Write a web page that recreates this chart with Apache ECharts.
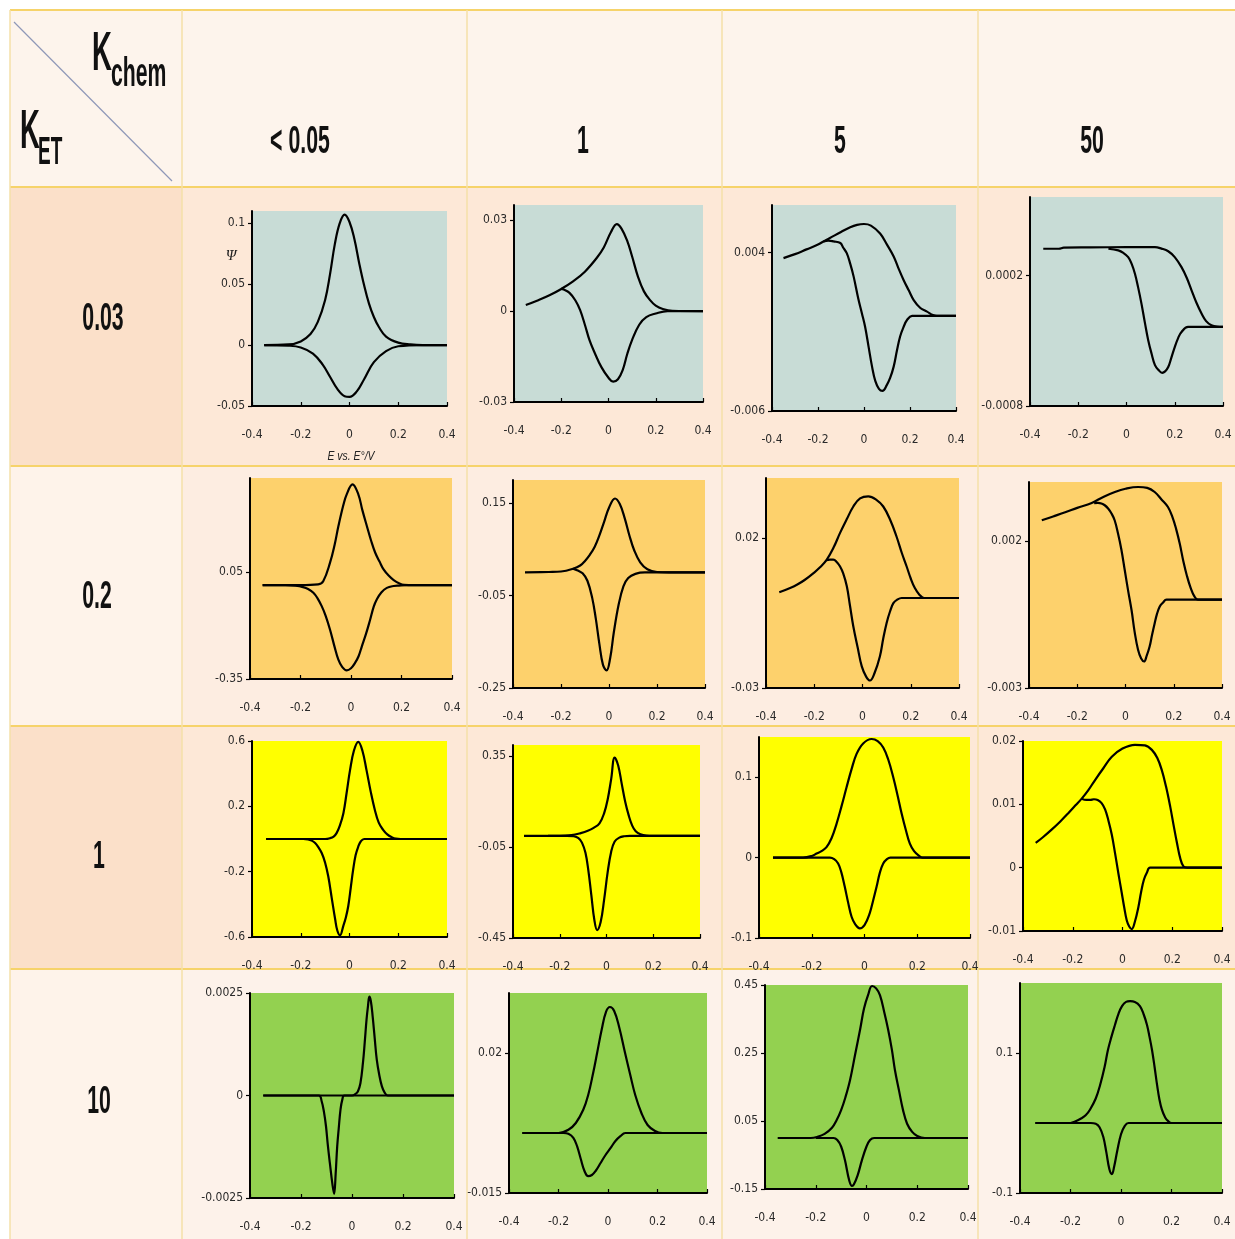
<!DOCTYPE html>
<html>
<head>
<meta charset="utf-8">
<script src="https://cdn.jsdelivr.net/npm/echarts@6/dist/echarts.min.js"></script>
<style>
  html, body { margin: 0; padding: 0; background: #ffffff; }
  #chart { width: 1235px; height: 1239px; }
</style>
</head>
<body>
<div id="chart"></div>
<script>
// ---- Table headers -------------------------------------------------------
const kChemLabels = ['< 0.05', '1', '5', '50'];   // columns: K_chem
const kEtLabels = ['0.03', '0.2', '1', '10'];     // rows: K_ET

// ---- Axis values (panels listed row by row, left to right) ---------------
const potentialTicks = [-0.4, -0.2, 0, 0.2, 0.4];
const potentialMin = -0.4;
const potentialMax = 0.4;

const psiMin = [-0.05, -0.03, -0.006, -0.0008,
                -0.35, -0.25, -0.03, -0.003,
                -0.6, -0.45, -0.1, -0.01,
                -0.0025, -0.015, -0.15, -0.1];
const psiMax = [0.11, 0.035, 0.007, 0.0008,
                0.4, 0.2, 0.04, 0.004,
                0.6, 0.4, 0.15, 0.02,
                0.0025, 0.035, 0.45, 0.2];
const psiTicks = [
  [-0.05, 0, 0.05, 0.1], [-0.03, 0, 0.03], [-0.006, 0.004], [-0.0008, 0.0002],
  [-0.35, 0.05], [-0.25, -0.05, 0.15], [-0.03, 0.02], [-0.003, 0.002],
  [-0.6, -0.2, 0.2, 0.6], [-0.45, -0.05, 0.35], [-0.1, 0, 0.1], [-0.01, 0, 0.01, 0.02],
  [-0.0025, 0, 0.0025], [-0.015, 0.02], [-0.15, 0.05, 0.25, 0.45], [-0.1, 0.1]
];

// ---- Voltammograms: [E / V, psi] in scan order ---------------------------
// K_ET = 0.03
const cv_et003_chem005_fwd = [[-0.35,0],[-0.25,0.0005],[-0.2,0.003],[-0.16,0.009],[-0.13,0.019],[-0.1,0.037],[-0.08,0.058],[-0.06,0.083],[-0.04,0.1],[-0.02,0.107],[0,0.101],[0.02,0.087],[0.04,0.067],[0.06,0.049],[0.08,0.034],[0.1,0.023],[0.12,0.015],[0.15,0.007],[0.2,0.002],[0.25,0.0005],[0.3,0],[0.4,0]];
const cv_et003_chem005_rev = [[0.4,0],[0.3,0],[0.2,-0.001],[0.15,-0.005],[0.1,-0.014],[0.06,-0.028],[0.03,-0.038],[0,-0.0425],[-0.02,-0.042],[-0.05,-0.036],[-0.08,-0.026],[-0.11,-0.016],[-0.15,-0.007],[-0.2,-0.002],[-0.25,-0.0005],[-0.35,0]];

const cv_et003_chem1_fwd = [[-0.35,0.002],[-0.3,0.0035],[-0.25,0.0052],[-0.2,0.0073],[-0.15,0.0098],[-0.1,0.013],[-0.05,0.0175],[-0.02,0.021],[0.01,0.026],[0.035,0.0287],[0.055,0.0272],[0.08,0.023],[0.1,0.018],[0.125,0.0113],[0.15,0.0065],[0.175,0.0037],[0.2,0.0018],[0.23,0.0007],[0.27,0.0001],[0.4,0]];
const cv_et003_chem1_rev = [[0.4,0],[0.25,0],[0.2,-0.0008],[0.16,-0.002],[0.13,-0.0045],[0.1,-0.0095],[0.08,-0.014],[0.06,-0.0195],[0.04,-0.0225],[0.02,-0.0233],[0,-0.022],[-0.03,-0.0185],[-0.06,-0.0135],[-0.08,-0.0097],[-0.1,-0.0045],[-0.12,0.0003],[-0.14,0.0035],[-0.165,0.006],[-0.19,0.0071],[-0.2,0.0073]];

const cv_et003_chem5_fwd = [[-0.35,0.00365],[-0.3,0.0039],[-0.25,0.0042],[-0.2,0.0045],[-0.176,0.0047],[-0.15,0.0049],[-0.1,0.0053],[-0.06,0.0056],[-0.03,0.00575],[0,0.0058],[0.03,0.0057],[0.07,0.0052],[0.1,0.0045],[0.129,0.00375],[0.15,0.003],[0.172,0.00227],[0.195,0.0016],[0.216,0.001],[0.245,0.0005],[0.274,0.00027],[0.3,0.00005],[0.317,0],[0.4,0]];
const cv_et003_chem5_rev = [[0.4,0],[0.209,0],[0.187,-0.00026],[0.172,-0.0007],[0.157,-0.0013],[0.143,-0.0022],[0.129,-0.0032],[0.114,-0.0039],[0.099,-0.00437],[0.08,-0.00473],[0.065,-0.0046],[0.049,-0.0041],[0.035,-0.0032],[0.02,-0.00195],[0.005,-0.0007],[-0.009,0.00016],[-0.025,0.0011],[-0.045,0.00248],[-0.06,0.0033],[-0.075,0.00396],[-0.09,0.0043],[-0.103,0.0046],[-0.132,0.0047],[-0.155,0.00475],[-0.176,0.0047]];

const cv_et003_chem50_fwd = [[-0.345,0.000404],[-0.28,0.000404],[-0.26,0.000412],[-0.15,0.000414],[0,0.000416],[0.118,0.000416],[0.145,0.000405],[0.173,0.000385],[0.2,0.00034],[0.228,0.000263],[0.25,0.00018],[0.27,0.000084],[0.29,-0.00001],[0.311,-0.000092],[0.33,-0.00015],[0.352,-0.000182],[0.375,-0.000193],[0.4,-0.000195]];
const cv_et003_chem50_rev = [[0.4,-0.000195],[0.255,-0.000195],[0.228,-0.000233],[0.214,-0.00028],[0.2,-0.000349],[0.186,-0.00043],[0.173,-0.000502],[0.16,-0.000535],[0.148,-0.000546],[0.133,-0.000525],[0.118,-0.000487],[0.104,-0.0004],[0.09,-0.000296],[0.076,-0.00016],[0.062,-0.000016],[0.048,0.00011],[0.035,0.000213],[0.021,0.00029],[0.007,0.00034],[-0.013,0.000372],[-0.034,0.000391],[-0.075,0.000404]];

// K_ET = 0.2
const cv_et02_chem005_fwd = [[-0.35,0],[-0.2,0],[-0.13,0.003],[-0.11,0.015],[-0.083,0.084],[-0.065,0.15],[-0.05,0.22],[-0.03,0.3],[-0.017,0.339],[0.006,0.376],[0.029,0.339],[0.045,0.28],[0.063,0.22],[0.08,0.165],[0.096,0.121],[0.113,0.088],[0.129,0.059],[0.15,0.035],[0.169,0.019],[0.19,0.007],[0.21,0.001],[0.25,0],[0.4,0]];
const cv_et02_chem005_rev = [[0.4,0],[0.22,0],[0.19,-0.0015],[0.169,-0.003],[0.142,-0.01],[0.12,-0.027],[0.102,-0.053],[0.09,-0.08],[0.076,-0.128],[0.06,-0.18],[0.043,-0.228],[0.03,-0.265],[0.016,-0.29],[0,-0.31],[-0.017,-0.318],[-0.035,-0.305],[-0.05,-0.278],[-0.065,-0.23],[-0.083,-0.166],[-0.1,-0.115],[-0.116,-0.078],[-0.133,-0.048],[-0.149,-0.028],[-0.17,-0.014],[-0.19,-0.007],[-0.22,-0.002],[-0.26,0],[-0.35,0]];

const cv_et02_chem1_fwd = [[-0.35,0],[-0.25,0.001],[-0.2,0.002],[-0.15,0.008],[-0.12,0.015],[-0.1,0.025],[-0.08,0.038],[-0.06,0.055],[-0.04,0.08],[-0.02,0.11],[0,0.14],[0.025,0.16],[0.045,0.148],[0.065,0.118],[0.085,0.08],[0.105,0.048],[0.13,0.022],[0.16,0.007],[0.2,0.001],[0.25,0],[0.4,0]];
const cv_et02_chem1_rev = [[0.4,0],[0.15,0],[0.11,-0.003],[0.08,-0.012],[0.06,-0.03],[0.04,-0.07],[0.02,-0.13],[0.005,-0.185],[-0.01,-0.212],[-0.025,-0.2],[-0.04,-0.155],[-0.055,-0.1],[-0.07,-0.055],[-0.09,-0.018],[-0.11,-0.002],[-0.13,0.004],[-0.15,0.008]];

const cv_et02_chem5_fwd = [[-0.345,0.0019],[-0.3,0.0033],[-0.272,0.0044],[-0.24,0.006],[-0.203,0.0083],[-0.175,0.0103],[-0.148,0.0128],[-0.12,0.0168],[-0.093,0.0217],[-0.065,0.0263],[-0.038,0.0305],[-0.01,0.0332],[0.024,0.0339],[0.055,0.0329],[0.086,0.0305],[0.115,0.026],[0.141,0.0205],[0.163,0.015],[0.183,0.0105],[0.2,0.0065],[0.217,0.0033],[0.235,0.0012],[0.255,0],[0.4,0]];
const cv_et02_chem5_rev = [[0.4,0],[0.162,0],[0.145,-0.0005],[0.128,-0.0017],[0.114,-0.0045],[0.1,-0.0083],[0.086,-0.0135],[0.072,-0.0195],[0.05,-0.025],[0.031,-0.0275],[0.015,-0.0262],[-0.003,-0.0228],[-0.02,-0.0165],[-0.038,-0.0095],[-0.052,-0.0025],[-0.065,0.0039],[-0.08,0.0082],[-0.093,0.0105],[-0.107,0.012],[-0.121,0.0128],[-0.135,0.0128],[-0.15,0.0126]];

const cv_et02_chem50_fwd = [[-0.347,0.0027],[-0.3,0.00283],[-0.25,0.00297],[-0.2,0.00312],[-0.14,0.00329],[-0.09,0.0035],[-0.044,0.00366],[0,0.00377],[0.052,0.00383],[0.09,0.0038],[0.121,0.00366],[0.15,0.0034],[0.176,0.00315],[0.195,0.0028],[0.21,0.0024],[0.225,0.0019],[0.24,0.0013],[0.255,0.0008],[0.27,0.0004],[0.285,0.00012],[0.3,0],[0.4,0]];
const cv_et02_chem50_rev = [[0.4,0],[0.17,0],[0.155,-0.0001],[0.142,-0.00023],[0.13,-0.0005],[0.121,-0.0008],[0.11,-0.0012],[0.1,-0.00159],[0.088,-0.0019],[0.077,-0.0021],[0.065,-0.002],[0.052,-0.0017],[0.038,-0.0011],[0.025,-0.00035],[0.011,0.0003],[-0.003,0.001],[-0.017,0.0017],[-0.031,0.00225],[-0.045,0.0027],[-0.058,0.00293],[-0.072,0.0031],[-0.086,0.00321],[-0.1,0.00327],[-0.114,0.00329],[-0.13,0.00328]];

// K_ET = 1
const cv_et1_chem005_fwd = [[-0.342,0],[-0.1,0],[-0.08,0.005],[-0.065,0.015],[-0.053,0.036],[-0.04,0.08],[-0.025,0.158],[-0.012,0.28],[0.002,0.42],[0.018,0.54],[0.036,0.595],[0.053,0.54],[0.07,0.42],[0.087,0.29],[0.104,0.178],[0.12,0.1],[0.138,0.056],[0.155,0.028],[0.172,0.012],[0.19,0.002],[0.21,0],[0.4,0]];
const cv_et1_chem005_rev = [[0.4,0],[0.06,0],[0.046,-0.015],[0.036,-0.046],[0.025,-0.1],[0.015,-0.188],[0.005,-0.3],[-0.005,-0.41],[-0.015,-0.48],[-0.025,-0.53],[-0.039,-0.59],[-0.05,-0.56],[-0.059,-0.49],[-0.073,-0.36],[-0.087,-0.23],[-0.1,-0.145],[-0.114,-0.086],[-0.128,-0.05],[-0.141,-0.025],[-0.155,-0.01],[-0.17,-0.002],[-0.19,0],[-0.342,0]];

const cv_et1_chem1_fwd = [[-0.353,0],[-0.2,0],[-0.15,0.003],[-0.11,0.012],[-0.08,0.022],[-0.055,0.035],[-0.03,0.055],[-0.01,0.1],[0.005,0.16],[0.02,0.25],[0.035,0.345],[0.05,0.31],[0.065,0.23],[0.08,0.15],[0.095,0.09],[0.11,0.045],[0.125,0.02],[0.145,0.007],[0.17,0.001],[0.2,0],[0.4,0]];
const cv_et1_chem1_rev = [[0.4,0],[0.1,0],[0.075,-0.002],[0.055,-0.008],[0.035,-0.025],[0.02,-0.07],[0.005,-0.16],[-0.01,-0.28],[-0.025,-0.38],[-0.04,-0.415],[-0.052,-0.37],[-0.065,-0.26],[-0.078,-0.15],[-0.09,-0.075],[-0.105,-0.03],[-0.12,-0.01],[-0.14,-0.002],[-0.17,0],[-0.25,0]];

const cv_et1_chem5_fwd = [[-0.347,0],[-0.233,0],[-0.2,0.002],[-0.182,0.005],[-0.163,0.008],[-0.144,0.013],[-0.125,0.024],[-0.106,0.042],[-0.087,0.064],[-0.068,0.0875],[-0.049,0.11],[-0.03,0.129],[-0.005,0.142],[0.027,0.1475],[0.05,0.145],[0.071,0.137],[0.09,0.122],[0.109,0.1],[0.125,0.078],[0.141,0.0545],[0.157,0.034],[0.172,0.0173],[0.188,0.008],[0.204,0.003],[0.22,0],[0.4,0]];
const cv_et1_chem5_rev = [[0.4,0],[0.098,0],[0.085,-0.002],[0.071,-0.0074],[0.058,-0.019],[0.046,-0.036],[0.033,-0.053],[0.02,-0.069],[0,-0.084],[-0.018,-0.088],[-0.035,-0.083],[-0.049,-0.0736],[-0.062,-0.056],[-0.075,-0.036],[-0.088,-0.018],[-0.1,-0.0074],[-0.115,-0.002],[-0.131,0],[-0.347,0]];

const cv_et1_chem50_fwd = [[-0.349,0.0039],[-0.32,0.0048],[-0.285,0.006],[-0.25,0.0073],[-0.218,0.0086],[-0.19,0.0098],[-0.164,0.0109],[-0.138,0.0122],[-0.111,0.0138],[-0.077,0.0157],[-0.043,0.0175],[0,0.0188],[0.05,0.0194],[0.09,0.0193],[0.118,0.0186],[0.14,0.0173],[0.158,0.0154],[0.175,0.0128],[0.192,0.0096],[0.205,0.0068],[0.219,0.0039],[0.232,0.0015],[0.245,0.0002],[0.26,0],[0.4,0]];
const cv_et1_chem50_rev = [[0.4,0],[0.111,0],[0.098,-0.0008],[0.086,-0.0019],[0.075,-0.0038],[0.064,-0.0062],[0.05,-0.0085],[0.037,-0.0097],[0.027,-0.0093],[0.017,-0.0083],[0.007,-0.0063],[-0.003,-0.004],[-0.017,-0.0008],[-0.03,0.0023],[-0.043,0.0052],[-0.057,0.0075],[-0.07,0.0092],[-0.084,0.0102],[-0.1,0.0107],[-0.115,0.0108],[-0.13,0.0107],[-0.145,0.0107],[-0.164,0.0109]];

// K_ET = 10
const cv_et10_chem005_fwd = [[-0.348,0],[0,0],[0.012,0.00003],[0.023,0.0001],[0.033,0.0003],[0.043,0.0008],[0.05,0.0013],[0.057,0.00185],[0.063,0.0022],[0.068,0.00241],[0.074,0.0023],[0.081,0.00193],[0.089,0.0014],[0.097,0.00088],[0.107,0.0005],[0.117,0.00023],[0.128,0.00007],[0.14,0],[0.4,0]];
const cv_et10_chem005_rev = [[0.4,0],[-0.03,0],[-0.038,-0.0001],[-0.045,-0.00034],[-0.052,-0.0008],[-0.058,-0.00124],[-0.064,-0.0019],[-0.07,-0.0024],[-0.076,-0.0022],[-0.087,-0.00164],[-0.095,-0.0012],[-0.102,-0.00075],[-0.11,-0.0004],[-0.119,-0.00014],[-0.13,0],[-0.348,0]];

const cv_et10_chem1_fwd = [[-0.347,0],[-0.2,0],[-0.16,0.0008],[-0.13,0.0025],[-0.1,0.0058],[-0.08,0.0095],[-0.06,0.015],[-0.044,0.02],[-0.025,0.026],[-0.008,0.0303],[0.008,0.0315],[0.025,0.0305],[0.045,0.0265],[0.069,0.02],[0.09,0.0145],[0.11,0.0095],[0.135,0.005],[0.16,0.002],[0.19,0.0005],[0.22,0],[0.4,0]];
const cv_et10_chem1_rev = [[0.4,0],[0.07,0],[0.05,-0.0008],[0.03,-0.002],[0.01,-0.0038],[-0.01,-0.0055],[-0.03,-0.0075],[-0.05,-0.0095],[-0.065,-0.0105],[-0.08,-0.0108],[-0.095,-0.0095],[-0.11,-0.0065],[-0.125,-0.0033],[-0.14,-0.0012],[-0.16,-0.0002],[-0.18,0],[-0.2,0]];

const cv_et10_chem5_fwd = [[-0.35,0],[-0.22,0],[-0.195,0.003],[-0.165,0.012],[-0.136,0.03],[-0.118,0.052],[-0.1,0.082],[-0.083,0.12],[-0.065,0.17],[-0.045,0.245],[-0.025,0.32],[-0.01,0.38],[0.006,0.42],[0.022,0.447],[0.038,0.44],[0.053,0.42],[0.07,0.37],[0.085,0.32],[0.1,0.26],[0.112,0.2],[0.128,0.14],[0.144,0.082],[0.16,0.042],[0.18,0.018],[0.2,0.006],[0.23,0],[0.4,0]];
const cv_et10_chem5_rev = [[0.4,0],[0.03,0],[0.014,-0.006],[0,-0.025],[-0.018,-0.065],[-0.035,-0.11],[-0.05,-0.137],[-0.057,-0.141],[-0.068,-0.125],[-0.085,-0.065],[-0.1,-0.025],[-0.115,-0.006],[-0.13,0],[-0.2,0]];

const cv_et10_chem50_fwd = [[-0.34,0],[-0.2,0],[-0.182,0.002],[-0.16,0.006],[-0.14,0.011],[-0.123,0.019],[-0.1,0.035],[-0.083,0.054],[-0.065,0.08],[-0.052,0.104],[-0.038,0.123],[-0.024,0.14],[-0.01,0.156],[0.004,0.167],[0.02,0.173],[0.036,0.174],[0.055,0.173],[0.075,0.167],[0.09,0.155],[0.103,0.14],[0.113,0.123],[0.123,0.104],[0.133,0.08],[0.143,0.054],[0.152,0.034],[0.162,0.019],[0.175,0.008],[0.186,0.003],[0.2,0],[0.4,0]];
const cv_et10_chem50_rev = [[0.4,0],[0.03,0],[0.015,-0.004],[0,-0.016],[-0.015,-0.04],[-0.027,-0.062],[-0.036,-0.073],[-0.046,-0.066],[-0.058,-0.042],[-0.07,-0.02],[-0.085,-0.006],[-0.1,-0.001],[-0.12,0],[-0.2,0]];

const forwardScans = [
  cv_et003_chem005_fwd, cv_et003_chem1_fwd, cv_et003_chem5_fwd, cv_et003_chem50_fwd,
  cv_et02_chem005_fwd, cv_et02_chem1_fwd, cv_et02_chem5_fwd, cv_et02_chem50_fwd,
  cv_et1_chem005_fwd, cv_et1_chem1_fwd, cv_et1_chem5_fwd, cv_et1_chem50_fwd,
  cv_et10_chem005_fwd, cv_et10_chem1_fwd, cv_et10_chem5_fwd, cv_et10_chem50_fwd
];
const reverseScans = [
  cv_et003_chem005_rev, cv_et003_chem1_rev, cv_et003_chem5_rev, cv_et003_chem50_rev,
  cv_et02_chem005_rev, cv_et02_chem1_rev, cv_et02_chem5_rev, cv_et02_chem50_rev,
  cv_et1_chem005_rev, cv_et1_chem1_rev, cv_et1_chem5_rev, cv_et1_chem50_rev,
  cv_et10_chem005_rev, cv_et10_chem1_rev, cv_et10_chem5_rev, cv_et10_chem50_rev
];

// ---- Layout and styling --------------------------------------------------
// plot frames: [left, top, width, height] in px
const panelFrames = [
  [252, 211, 195, 195], [514, 205, 189, 197], [772, 205, 184, 206], [1030, 197, 193, 209],
  [250, 478, 202, 201], [513, 480, 192, 208], [766, 478, 193, 210], [1029, 482, 193, 206],
  [252, 741, 195, 196], [513, 745, 187, 193], [759, 737, 211, 201], [1023, 741, 199, 190],
  [250, 993, 204, 205], [509, 993, 198, 200], [765, 985, 203, 204], [1020, 983, 202, 210]
];
const plotFill = ['#c8dcd6', '#fdd16c', '#ffff00', '#93d150'];
const rowHeadFill = ['#fbe0c9', '#fef3ea', '#fbe0c9', '#fef3ea'];
const rowCellFill = ['#fde8d7', '#fdede1', '#fde8d7', '#fdf2ea'];
const rowEdges = [187, 466, 726, 969, 1239];
const colEdges = [10, 182, 467, 722, 978, 1235];
const headerFont = '"Liberation Sans", Arial, sans-serif';
const tickFont = '"DejaVu Sans Condensed", "Liberation Sans", sans-serif';

// ---- Table drawn as graphic elements behind the panels --------------------
const graphics = [];
function box(x, y, w, h, fill) {
  graphics.push({ type: 'rect', z: -10, silent: true, shape: { x, y, width: w, height: h }, style: { fill } });
}
function rule(x1, y1, x2, y2, stroke, w) {
  graphics.push({ type: 'line', z: -9, silent: true, shape: { x1, y1, x2, y2 }, style: { stroke, lineWidth: w } });
}
function words(text, x, y, size, sx, opts) {
  const o = opts || {};
  graphics.push({
    type: 'text', z: -8, silent: true, x, y, scaleX: sx,
    style: {
      text, fontSize: size, fontFamily: o.family || headerFont,
      fontWeight: o.weight || 'bold', fontStyle: o.style || 'normal',
      fill: o.fill || '#111111', align: o.align || 'center',
      verticalAlign: o.valign || 'middle'
    }
  });
}

box(10, 10, 1225, rowEdges[0] - 10, '#fdf4ec');
for (let r = 0; r < 4; r++) {
  const y0 = rowEdges[r], h = rowEdges[r + 1] - y0;
  box(colEdges[0], y0, colEdges[1] - colEdges[0], h, rowHeadFill[r]);
  box(colEdges[1], y0, colEdges[5] - colEdges[1], h, rowCellFill[r]);
}
[10, ...rowEdges.slice(0, 4)].forEach(y => rule(10, y, 1235, y, '#f6d36a', 2));
colEdges.slice(0, 5).forEach(x => rule(x, 10, x, 1239, '#f4e0a8', 1.5));
rule(14, 22, 172, 181, '#8f98b8', 1.2);

// corner header: K_chem over K_ET
words('K', 92, 82, 55, 0.5, { align: 'left', valign: 'bottom' });
words('chem', 111, 95, 40, 0.53, { align: 'left', valign: 'bottom' });
words('K', 20, 160, 55, 0.5, { align: 'left', valign: 'bottom' });
words('ET', 38, 173, 38, 0.5, { align: 'left', valign: 'bottom' });

const colCenters = [300, 583, 840, 1092];
kChemLabels.forEach((t, i) => words(t, colCenters[i], 143, 38, 0.56));
const rowCenters = [[103, 320], [97, 598], [99, 858], [99, 1103]];
kEtLabels.forEach((t, i) => words(t, rowCenters[i][0], rowCenters[i][1], 38, 0.56));

// axis names on the first panel
words('\u03A8', 231, 256, 15, 1, { family: '"Liberation Serif", serif', style: 'italic', weight: 'normal', fill: '#222' });
words('E vs. E\u00B0/V', 351, 456, 13, 0.8, { family: headerFont, style: 'italic', weight: 'normal', fill: '#222' });

// ---- Panels ---------------------------------------------------------------
const grids = [], xAxes = [], yAxes = [], series = [];
panelFrames.forEach((f, i) => {
  const row = Math.floor(i / 4);
  grids.push({
    left: f[0], top: f[1], width: f[2], height: f[3],
    show: true, backgroundColor: plotFill[row], borderWidth: 0, containLabel: false
  });
  xAxes.push({
    type: 'value', gridIndex: i, min: potentialMin, max: potentialMax,
    axisLine: { onZero: false, lineStyle: { color: '#000', width: 2 } },
    axisTick: { customValues: potentialTicks, inside: true, length: 4, lineStyle: { color: '#000', width: 1.2 } },
    axisLabel: { customValues: potentialTicks, margin: 23, fontFamily: tickFont, fontSize: 12, color: '#2a2a2a',
                 formatter: v => String(v) },
    splitLine: { show: false }
  });
  yAxes.push({
    type: 'value', gridIndex: i, min: psiMin[i], max: psiMax[i],
    axisLine: { onZero: false, lineStyle: { color: '#000', width: 2 } },
    axisTick: { customValues: psiTicks[i], length: 4, lineStyle: { color: '#000', width: 1.2 } },
    axisLabel: { customValues: psiTicks[i], margin: 7, fontFamily: tickFont, fontSize: 12, color: '#2a2a2a',
                 formatter: v => String(v) },
    splitLine: { show: false }
  });
  [forwardScans[i], reverseScans[i]].forEach(scan => {
    series.push({
      type: 'line', xAxisIndex: i, yAxisIndex: i, data: scan,
      showSymbol: false, smooth: 0.4, clip: false, silent: true,
      lineStyle: { color: '#000', width: 2.2 }
    });
  });
});

const chart = echarts.init(document.getElementById('chart'), null, { renderer: 'canvas' });
chart.setOption({
  animation: false,
  backgroundColor: '#ffffff',
  graphic: { elements: graphics },
  grid: grids,
  xAxis: xAxes,
  yAxis: yAxes,
  series
});
</script>
</body>
</html>
